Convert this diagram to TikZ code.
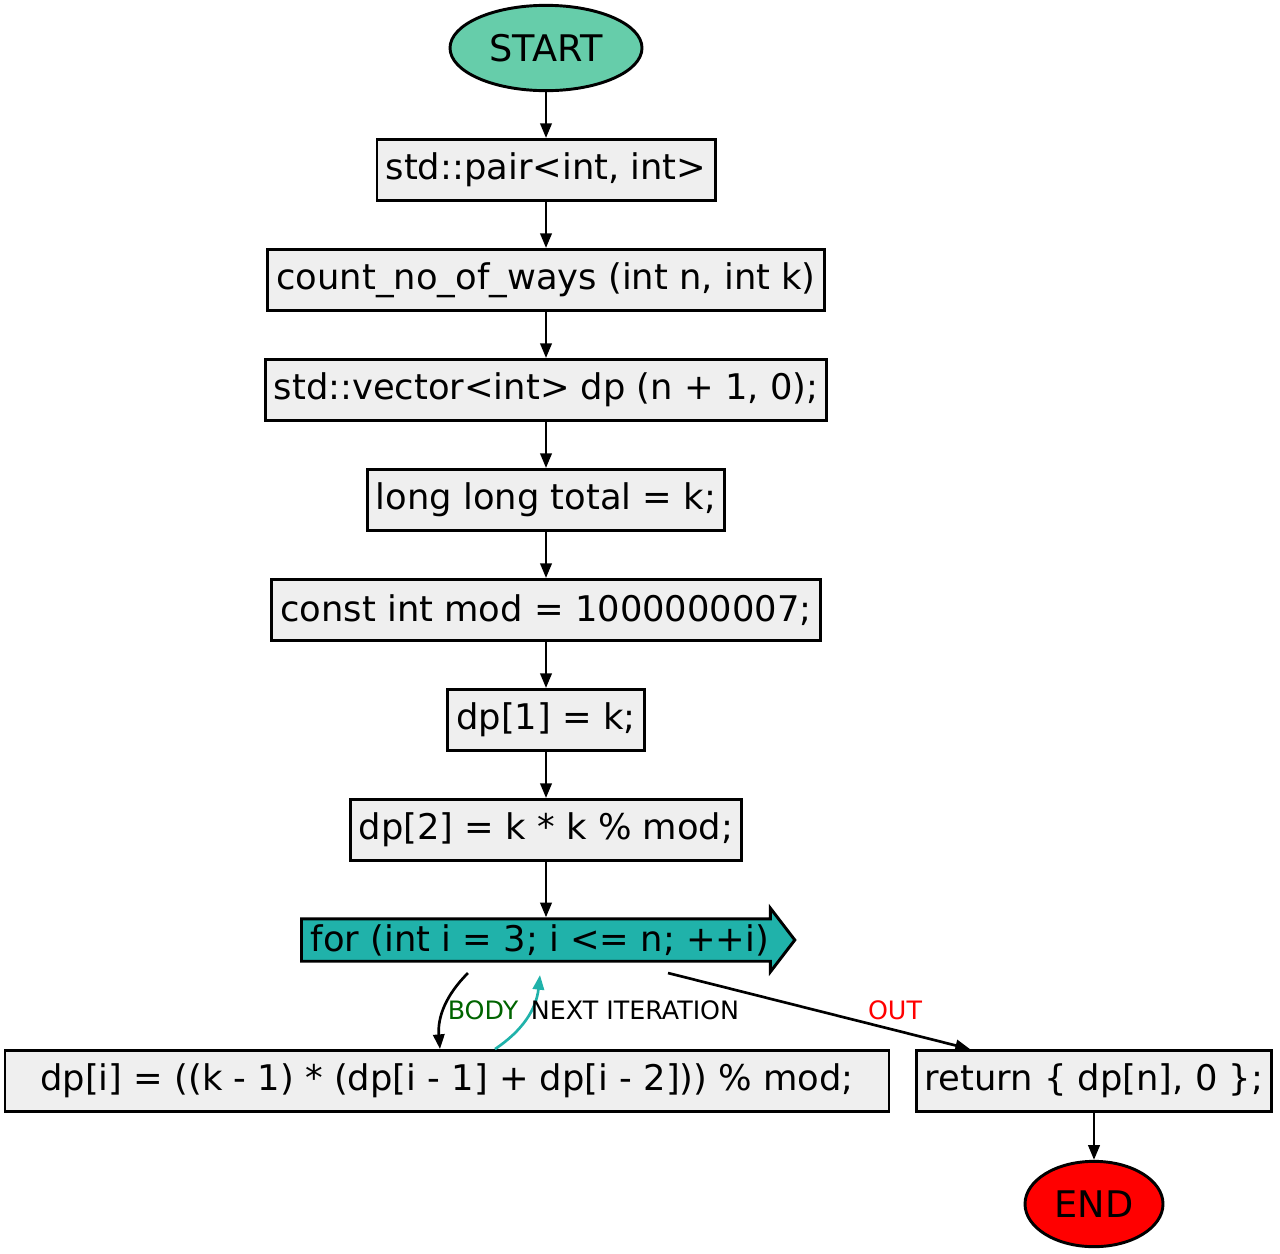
\documentclass[tikz,border=0pt]{standalone}
\usepackage{fontspec}
\setmainfont{DejaVu Sans}
\usetikzlibrary{shapes.geometric,shapes.arrows,arrows.meta}
\tikzset{every picture/.style={line width=0.75pt}}
\definecolor{startgreen}{RGB}{102,205,170}
\definecolor{endred}{RGB}{255,0,0}
\definecolor{boxgray}{RGB}{239,239,239}
\definecolor{loopteal}{RGB}{32,178,170}
\definecolor{bodygreen}{RGB}{0,100,0}

\begin{document}
\begin{tikzpicture}[x=0.75pt,y=0.75pt,yscale=-1,xscale=1,
  stmt/.style={draw,fill=boxgray,line width=2.2pt,minimum height=45.75pt,inner xsep=6.5pt,font=\fontsize{26.5}{30}\selectfont},
  term/.style={ellipse,draw,line width=2.2pt,minimum height=64pt,inner sep=0pt,font=\fontsize{27.5}{30}\selectfont},
  flow/.style={-{Triangle[length=11pt,width=8.5pt]},line width=2pt},
  lbl/.style={inner sep=0.75pt,font=\fontsize{19}{22}\selectfont}]
\useasboundingbox (0,0) rectangle (1280,1253);

% Nodes
\node [term,fill=startgreen,minimum width=144pt] (start) at (546,48) {START};
\node [stmt] (pair) at (546,170) {std::pair<int, int>};
\node [stmt] (ways) at (546,280) {count\_no\_of\_ways (int n, int k)};
\node [stmt] (vec) at (546,390) {std::vector<int> dp (n + 1, 0);};
\node [stmt] (total) at (546,500) {long long total = k;};
\node [stmt] (mod) at (546,610) {const int mod = 1000000007;};
\node [stmt] (dpone) at (546,720) {dp[1] = k;};
\node [stmt] (dptwo) at (546,830) {dp[2] = k * k \% mod;};
\node [single arrow,draw,fill=loopteal,line width=2.2pt,minimum height=370pt,single arrow head extend=8pt,single arrow tip angle=105,inner sep=3pt,font=\fontsize{26.5}{30}\selectfont] (loop) at (540,940) {for (int i = 3; i <= n; ++i)};
\node [stmt,minimum width=663pt] (body) at (447,1081) {dp[i] = ((k - 1) * (dp[i - 1] + dp[i - 2])) \% mod;};
\node [stmt] (ret) at (1094,1081) {return \{ dp[n], 0 \};};
\node [term,fill=endred,minimum width=103.5pt] (end) at (1094,1204) {END};

% Connectors
\draw [flow] (start) -- (pair);
\draw [flow] (pair) -- (ways);
\draw [flow] (ways) -- (vec);
\draw [flow] (vec) -- (total);
\draw [flow] (total) -- (mod);
\draw [flow] (mod) -- (dpone);
\draw [flow] (dpone) -- (dptwo);
\draw [flow] (dptwo) -- (dptwo |- loop.north);
\draw [flow] ([xshift=-54pt,yshift=24.75pt]loop.center) to [bend left=25] ([xshift=-5.25pt]body.north);
\draw [flow,color=loopteal] ([xshift=36pt]body.north) to [bend left=25] ([xshift=0pt,yshift=26.25pt]loop.center);
\draw [flow] ([xshift=96pt,yshift=24.75pt]loop.center) -- ([xshift=-93pt]ret.north);
\draw [flow] (ret) -- (end);

% Labels
\node [lbl,color=bodygreen] (bodylbl) at (483,1010) {BODY};
\node [lbl] (nextlbl) at (635,1010) {NEXT ITERATION};
\node [lbl,color=endred] (outlbl) at (895,1010) {OUT};
\end{tikzpicture}
\end{document}
